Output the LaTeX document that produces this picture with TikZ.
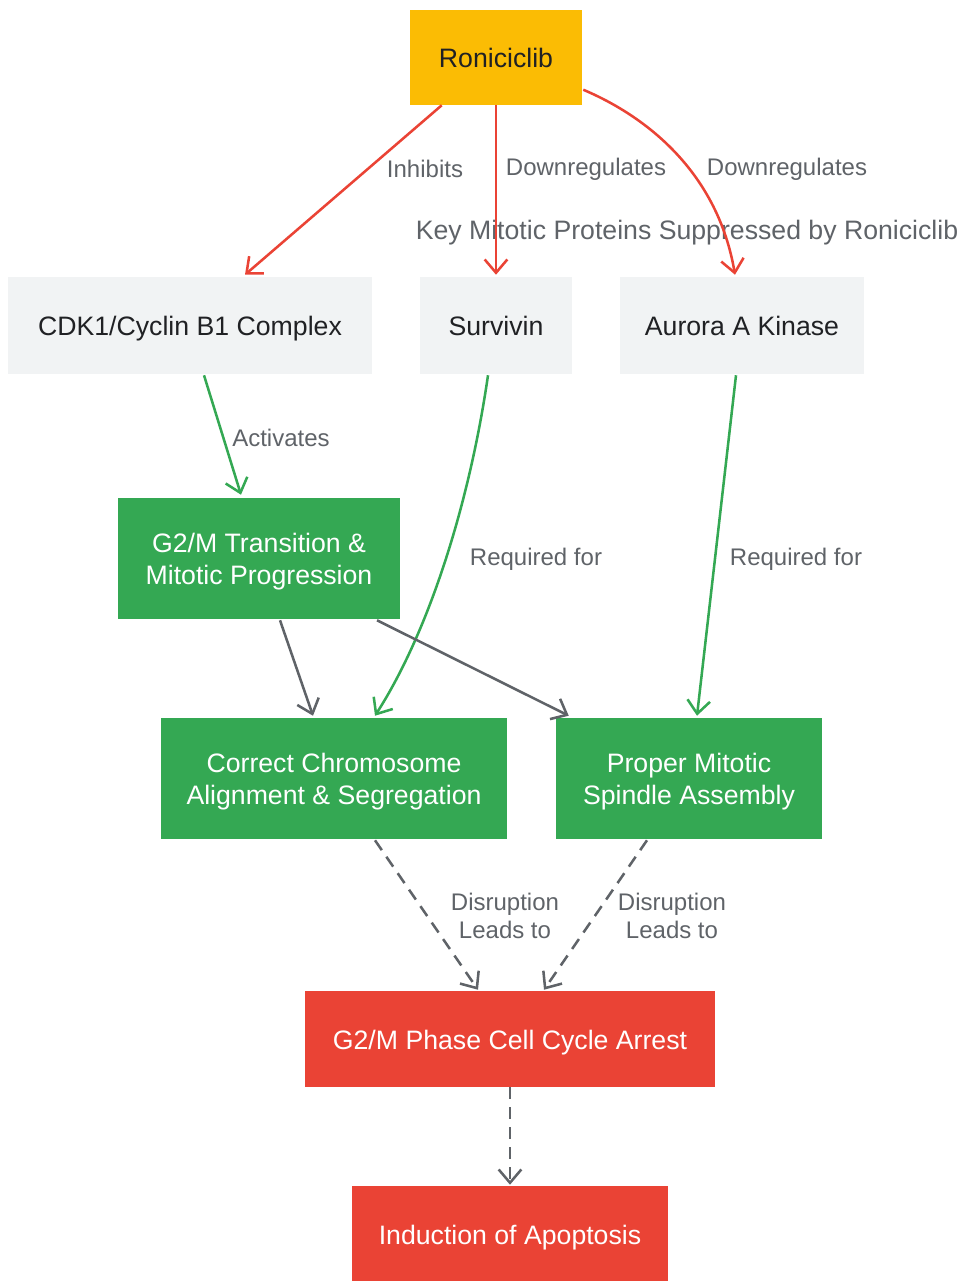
\documentclass[tikz,border=0pt]{standalone}
\usepackage{fontspec}
\setmainfont{Liberation Sans}
\usetikzlibrary{arrows.meta,calc}
\definecolor{cyellow}{HTML}{FBBC04}
\definecolor{cgrayfill}{HTML}{F1F3F4}
\definecolor{cgreen}{HTML}{34A853}
\definecolor{cred}{HTML}{EA4335}
\definecolor{cdark}{HTML}{202124}
\definecolor{cline}{HTML}{5F6368}
\begin{document}
\begin{tikzpicture}[x=0.75pt,y=-0.75pt,
  box/.style={rectangle,inner sep=0pt},
  drug/.style={box,fill=cyellow},
  prot/.style={box,fill=cgrayfill},
  proc/.style={box,fill=cgreen},
  outc/.style={box,fill=cred},
  txt/.style={inner sep=0pt,align=center,font=\fontsize{20}{24}\selectfont},
  dtxt/.style={txt,text=cdark},
  wtxt/.style={txt,text=white},
  lbl/.style={text=cline,align=center,font=\fontsize{18}{21}\selectfont,inner sep=0pt},
  conn/.style={line width=1.9pt,-{Straight Barb[length=10pt,width=17pt,line width=1.9pt]}},
  redc/.style={conn,draw=cred},
  greenc/.style={conn,draw=cgreen},
  grayc/.style={conn,draw=cline},
  dashc/.style={grayc,dash pattern=on 9pt off 6pt}
]
\useasboundingbox (0,0) rectangle (960,1281);
% node boxes
\node[drug,minimum width=172*0.75pt,minimum height=95*0.75pt] (ron) at (496,57.5) {};
\node[prot,minimum width=364*0.75pt,minimum height=97*0.75pt] (cdk) at (190,325.5) {};
\node[prot,minimum width=152*0.75pt,minimum height=97*0.75pt] (surv) at (496,325.5) {};
\node[prot,minimum width=244*0.75pt,minimum height=97*0.75pt] (aur) at (742,325.5) {};
\node[proc,minimum width=282*0.75pt,minimum height=121*0.75pt] (g2m) at (259,558.5) {};
\node[proc,minimum width=346*0.75pt,minimum height=121*0.75pt] (chr) at (334,778.5) {};
\node[proc,minimum width=266*0.75pt,minimum height=121*0.75pt] (spi) at (689,778.5) {};
\node[outc,minimum width=410*0.75pt,minimum height=96*0.75pt] (arr) at (510,1039) {};
\node[outc,minimum width=316*0.75pt,minimum height=96*0.75pt] (apo) at (510,1234) {};
% node texts
\node[dtxt] (ront) at ($(ron)+(0,0)$) {Roniciclib};
\node[dtxt] (cdkt) at ($(cdk)+(0,3)$) {CDK1/Cyclin B1 Complex};
\node[dtxt] (survt) at ($(surv)+(0,0)$) {Survivin};
\node[dtxt] (aurt) at ($(aur)+(0,0)$) {Aurora A Kinase};
\node[wtxt] (g2mt) at ($(g2m)+(0,3)$) {G2/M Transition \&\\Mitotic Progression};
\node[wtxt] (chrt) at ($(chr)+(0,3)$) {Correct Chromosome\\Alignment \& Segregation};
\node[wtxt] (spit) at ($(spi)+(0,3)$) {Proper Mitotic\\Spindle Assembly};
\node[wtxt] (arrt) at ($(arr)+(0,4)$) {G2/M Phase Cell Cycle Arrest};
\node[wtxt] (apot) at ($(apo)+(0,4)$) {Induction of Apoptosis};
% cluster title
\node[lbl,font=\fontsize{20}{24}\selectfont] (ktitle) at (687,233) {Key Mitotic Proteins Suppressed by Roniciclib};
% edges
\draw[redc] ($(ron.south west)+(32,0)$) -- ($(cdk.north)+(55,-2)$);
\draw[redc] (ron.south) -- ($(surv.north)+(0,-2)$);
\draw[redc] ($(ron.north east)+(1,80)$) .. controls (650,118) and (718,175) .. ($(aur.north)+(-7,-2)$);
\draw[greenc] ($(cdk.south)+(14,1)$) -- ($(g2m.north)+(-18,-3)$);
\draw[greenc] ($(surv.south)+(-8,1)$) .. controls (470,500) and (430,630) .. ($(chr.north)+(41,-2)$);
\draw[greenc] ($(aur.south)+(-6,1)$) -- ($(spi.north)+(8,-2)$);
\draw[grayc] ($(g2m.south)+(21,1)$) -- ($(chr.north)+(-21,-2)$);
\draw[grayc] ($(g2m.south)+(118,1)$) -- ($(spi.north west)+(13,-2)$);
\draw[dashc] ($(chr.south)+(41,1)$) -- ($(arr.north)+(-32,-1)$);
\draw[dashc] ($(spi.south)+(-42,1)$) -- ($(arr.north)+(34,-1)$);
\draw[dashc] (arr.south) -- ($(apo.north)+(0,-1)$);
% edge labels
\node[lbl] (l1) at (425,168.5) {Inhibits};
\node[lbl] (l2) at (586,169.5) {Downregulates};
\node[lbl] (l3) at (787,169.5) {Downregulates};
\node[lbl] (l4) at (281,437.5) {Activates};
\node[lbl] (l5) at (536,559.5) {Required for};
\node[lbl] (l6) at (796,559.5) {Required for};
\node[lbl] (l7) at (505,916) {Disruption\\Leads to};
\node[lbl] (l8) at (672,916) {Disruption\\Leads to};
\end{tikzpicture}
\end{document}
